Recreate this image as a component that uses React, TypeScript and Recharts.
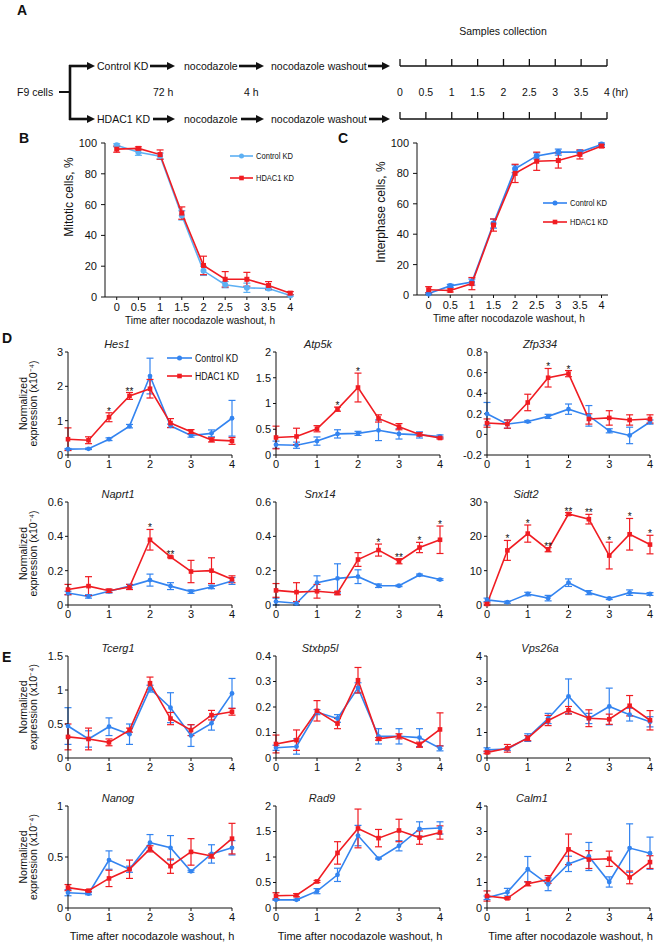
import React from "react";
import { LineChart, Line, XAxis, YAxis, ErrorBar } from "recharts";

const FONT = '"Liberation Sans", Arial, Helvetica, sans-serif';
const BLUE = "#3384f0";
const LIGHT_BLUE = "#5db0f3";
const RED = "#f01c22";
const INK = "#111";

// time points (h after washout)
const TIMES = [0, 0.5, 1, 1.5, 2, 2.5, 3, 3.5, 4];
const GENE_X_TICKS = [0, 1, 2, 3, 4];
const PCT_TICKS = [0, 20, 40, 60, 80, 100];

// B: mitotic cells, %
const mitoticCtrl = [98.5, 94, 91.5, 53, 17, 8, 6, 5.5, 1];
const mitoticCtrlSd = [1, 2, 2, 3, 3, 2, 3, 1, 0.5];
const mitoticHdac = [96, 96.5, 92.5, 54.5, 20.5, 11.5, 11.5, 7.5, 2.5];
const mitoticHdacSd = [2, 1, 3, 4, 6, 5, 4.5, 2.5, 1];

// C: interphase cells, %
const interCtrl = [1, 6, 8.5, 47, 83, 91.5, 94, 94, 99];
const interCtrlSd = [0.5, 1, 2, 3, 2.5, 2, 2, 1, 1];
const interHdac = [3.5, 3, 7.5, 46, 80, 88, 88.5, 92.5, 98];
const interHdacSd = [2, 1, 4, 4, 6, 6, 5, 3, 1];

// D
const hes1Ctrl = [0.17, 0.18, 0.46, 0.84, 2.3, 0.85, 0.57, 0.63, 1.07];
const hes1CtrlSd = [0.02, 0.02, 0.04, 0.05, 0.52, 0.05, 0.05, 0.1, 0.52];
const hes1Hdac = [0.46, 0.43, 1.1, 1.72, 1.93, 0.93, 0.68, 0.44, 0.41];
const hes1HdacSd = [0.33, 0.1, 0.13, 0.1, 0.27, 0.13, 0.06, 0.06, 0.1];
const hes1Sig = ["", "", "*", "**", "", "", "", "", ""];
const hes1Ticks = [0, 1, 2, 3];

const atp5kCtrl = [0.2, 0.19, 0.27, 0.41, 0.42, 0.48, 0.41, 0.39, 0.36];
const atp5kCtrlSd = [0.07, 0.06, 0.08, 0.08, 0.04, 0.2, 0.1, 0.06, 0.03];
const atp5kHdac = [0.34, 0.36, 0.51, 0.89, 1.31, 0.71, 0.55, 0.4, 0.33];
const atp5kHdacSd = [0.22, 0.16, 0.06, 0.04, 0.28, 0.07, 0.06, 0.03, 0.02];
const atp5kSig = ["", "", "", "*", "*", "", "", "", ""];
const atp5kTicks = [0, 0.5, 1, 1.5, 2];

const zfp334Ctrl = [0.2, 0.1, 0.125, 0.175, 0.245, 0.18, 0.035, -0.01, 0.12];
const zfp334CtrlSd = [0.11, 0.04, 0.01, 0.02, 0.05, 0.1, 0.02, 0.08, 0.02];
const zfp334Hdac = [0.11, 0.1, 0.31, 0.55, 0.59, 0.15, 0.16, 0.14, 0.15];
const zfp334HdacSd = [0.04, 0.04, 0.08, 0.09, 0.03, 0.05, 0.07, 0.05, 0.04];
const zfp334Sig = ["", "", "", "*", "*", "", "", "", ""];
const zfp334Ticks = [-0.2, 0, 0.2, 0.4, 0.6, 0.8];

const naprt1Ctrl = [0.07, 0.05, 0.08, 0.11, 0.145, 0.11, 0.078, 0.105, 0.14];
const naprt1CtrlSd = [0.01, 0.01, 0.01, 0.01, 0.035, 0.02, 0.01, 0.01, 0.02];
const naprt1Hdac = [0.09, 0.11, 0.083, 0.105, 0.38, 0.28, 0.195, 0.2, 0.15];
const naprt1HdacSd = [0.03, 0.055, 0.01, 0.015, 0.06, 0.005, 0.065, 0.075, 0.02];
const naprt1Sig = ["", "", "", "", "*", "**", "", "", ""];
const naprt1Ticks = [0, 0.2, 0.4, 0.6];

const snx14Ctrl = [0.02, 0.01, 0.13, 0.155, 0.165, 0.112, 0.112, 0.175, 0.148];
const snx14CtrlSd = [0.02, 0.01, 0.04, 0.085, 0.04, 0.01, 0.005, 0.005, 0.005];
const snx14Hdac = [0.085, 0.075, 0.08, 0.07, 0.265, 0.32, 0.255, 0.335, 0.38];
const snx14HdacSd = [0.04, 0.055, 0.04, 0.01, 0.04, 0.035, 0.015, 0.03, 0.08];
const snx14Sig = ["", "", "", "", "", "*", "**", "*", "*"];
const snx14Ticks = [0, 0.2, 0.4, 0.6];

const sidt2Ctrl = [1.5, 0.8, 3.2, 2, 6.5, 3.6, 1.9, 3.6, 3.2];
const sidt2CtrlSd = [0.5, 0.3, 0.5, 0.8, 1.1, 0.6, 0.3, 0.8, 0.4];
const sidt2Hdac = [0.3, 15.9, 20.8, 16.1, 26.5, 25, 14.4, 20.6, 17.6];
const sidt2HdacSd = [0.3, 2.9, 2.5, 0.6, 0.4, 1.4, 3.9, 4.6, 2.7];
const sidt2Sig = ["", "*", "*", "**", "**", "**", "*", "*", "*"];
const sidt2Ticks = [0, 10, 20, 30];

// E
const tcerg1Ctrl = [0.47, 0.28, 0.46, 0.35, 1.02, 0.74, 0.33, 0.51, 0.95];
const tcerg1CtrlSd = [0.27, 0.12, 0.13, 0.15, 0.05, 0.22, 0.16, 0.1, 0.22];
const tcerg1Hdac = [0.31, 0.28, 0.23, 0.41, 1.1, 0.58, 0.41, 0.63, 0.68];
const tcerg1HdacSd = [0.19, 0.16, 0.05, 0.03, 0.09, 0.09, 0.08, 0.07, 0.05];
const tcerg1Ticks = [0, 0.5, 1, 1.5];

const stxbp5lCtrl = [0.04, 0.045, 0.18, 0.155, 0.275, 0.085, 0.085, 0.08, 0.038];
const stxbp5lCtrlSd = [0.01, 0.03, 0.01, 0.015, 0.02, 0.03, 0.03, 0.035, 0.01];
const stxbp5lHdac = [0.055, 0.07, 0.185, 0.135, 0.305, 0.075, 0.085, 0.052, 0.112];
const stxbp5lHdacSd = [0.035, 0.04, 0.04, 0.02, 0.05, 0.005, 0.01, 0.01, 0.065];
const stxbp5lTicks = [0, 0.1, 0.2, 0.3, 0.4];

const vps26aCtrl = [0.32, 0.35, 0.8, 1.55, 2.42, 1.55, 2.02, 1.7, 1.42];
const vps26aCtrlSd = [0.08, 0.05, 0.15, 0.2, 0.68, 0.2, 0.72, 0.25, 0.2];
const vps26aHdac = [0.22, 0.38, 0.78, 1.47, 1.87, 1.56, 1.52, 2.05, 1.48];
const vps26aHdacSd = [0.05, 0.15, 0.1, 0.2, 0.15, 0.33, 0.2, 0.4, 0.38];
const vps26aTicks = [0, 1, 2, 3, 4];

const nanogCtrl = [0.15, 0.14, 0.47, 0.38, 0.64, 0.59, 0.36, 0.53, 0.59];
const nanogCtrlSd = [0.03, 0.01, 0.09, 0.03, 0.08, 0.12, 0.01, 0.09, 0.07];
const nanogHdac = [0.2, 0.17, 0.29, 0.38, 0.58, 0.41, 0.55, 0.51, 0.68];
const nanogHdacSd = [0.03, 0.01, 0.08, 0.09, 0.03, 0.07, 0.13, 0.02, 0.15];
const nanogTicks = [0, 0.5, 1];

const rad9Ctrl = [0.16, 0.16, 0.33, 0.65, 1.42, 0.97, 1.22, 1.55, 1.57];
const rad9CtrlSd = [0.01, 0.01, 0.05, 0.13, 0.2, 0.01, 0.1, 0.14, 0.12];
const rad9Hdac = [0.24, 0.25, 0.52, 1.08, 1.56, 1.37, 1.52, 1.38, 1.48];
const rad9HdacSd = [0.06, 0.03, 0.02, 0.22, 0.38, 0.17, 0.22, 0.13, 0.13];
const rad9Ticks = [0, 0.5, 1, 1.5, 2];

const calm1Ctrl = [0.4, 0.62, 1.52, 0.93, 1.73, 2.02, 1.02, 2.35, 2.15];
const calm1CtrlSd = [0.07, 0.15, 0.5, 0.25, 0.3, 0.55, 0.2, 0.95, 0.63];
const calm1Hdac = [0.47, 0.38, 0.95, 1.12, 2.3, 1.9, 1.93, 1.2, 1.8];
const calm1HdacSd = [0.2, 0.03, 0.08, 0.15, 0.6, 0.35, 0.3, 0.25, 0.25];
const calm1Ticks = [0, 1, 2, 3, 4];

function buildRows(
  ctrl: number[],
  ctrlSd: number[],
  hdac: number[],
  hdacSd: number[],
  sig?: string[],
) {
  return TIMES.map((t, i) => ({
    t,
    ctrl: ctrl[i],
    ctrlErr: ctrlSd[i],
    hdac: hdac[i],
    hdacErr: hdacSd[i],
    sig: sig ? sig[i] : "",
    star: sig && sig[i] ? hdac[i] + hdacSd[i] : null,
  }));
}

// plot boxes (x of t=0 / t=4, y of top tick / bottom tick)
const COLS = [
  { x0: 68, x1: 232 },
  { x0: 276, x1: 440 },
  { x0: 487, x1: 650 },
];
const ROWS = [
  { yT: 352, yB: 455 },
  { yT: 502, yB: 605 },
  { yT: 656, yB: 758 },
  { yT: 806, yB: 908 },
];

const GENE_PANELS = [
  { name: "Hes1", col: 0, row: 0, titleX: 117, ticks: hes1Ticks, rows: buildRows(hes1Ctrl, hes1CtrlSd, hes1Hdac, hes1HdacSd, hes1Sig) },
  { name: "Atp5k", col: 1, row: 0, titleX: 318, ticks: atp5kTicks, rows: buildRows(atp5kCtrl, atp5kCtrlSd, atp5kHdac, atp5kHdacSd, atp5kSig) },
  { name: "Zfp334", col: 2, row: 0, titleX: 540, ticks: zfp334Ticks, rows: buildRows(zfp334Ctrl, zfp334CtrlSd, zfp334Hdac, zfp334HdacSd, zfp334Sig) },
  { name: "Naprt1", col: 0, row: 1, titleX: 118, ticks: naprt1Ticks, rows: buildRows(naprt1Ctrl, naprt1CtrlSd, naprt1Hdac, naprt1HdacSd, naprt1Sig) },
  { name: "Snx14", col: 1, row: 1, titleX: 320, ticks: snx14Ticks, rows: buildRows(snx14Ctrl, snx14CtrlSd, snx14Hdac, snx14HdacSd, snx14Sig) },
  { name: "Sidt2", col: 2, row: 1, titleX: 526, ticks: sidt2Ticks, rows: buildRows(sidt2Ctrl, sidt2CtrlSd, sidt2Hdac, sidt2HdacSd, sidt2Sig) },
  { name: "Tcerg1", col: 0, row: 2, titleX: 118, ticks: tcerg1Ticks, rows: buildRows(tcerg1Ctrl, tcerg1CtrlSd, tcerg1Hdac, tcerg1HdacSd) },
  { name: "Stxbp5l", col: 1, row: 2, titleX: 320, ticks: stxbp5lTicks, rows: buildRows(stxbp5lCtrl, stxbp5lCtrlSd, stxbp5lHdac, stxbp5lHdacSd) },
  { name: "Vps26a", col: 2, row: 2, titleX: 540, ticks: vps26aTicks, rows: buildRows(vps26aCtrl, vps26aCtrlSd, vps26aHdac, vps26aHdacSd) },
  { name: "Nanog", col: 0, row: 3, titleX: 118, ticks: nanogTicks, rows: buildRows(nanogCtrl, nanogCtrlSd, nanogHdac, nanogHdacSd) },
  { name: "Rad9", col: 1, row: 3, titleX: 322, ticks: rad9Ticks, rows: buildRows(rad9Ctrl, rad9CtrlSd, rad9Hdac, rad9HdacSd) },
  { name: "Calm1", col: 2, row: 3, titleX: 532, ticks: calm1Ticks, rows: buildRows(calm1Ctrl, calm1CtrlSd, calm1Hdac, calm1HdacSd) },
];

const AXIS = { stroke: INK, strokeWidth: 1 };

const circleDot = (color: string, r = 2.4) => (p: any) =>
  p.cx == null || p.cy == null ? (
    <g key={`c${p.index}`} />
  ) : (
    <circle key={`c${p.index}`} cx={p.cx} cy={p.cy} r={r} fill={color} stroke="none" />
  );

const squareDot = (color: string, s = 4.6) => (p: any) =>
  p.cx == null || p.cy == null ? (
    <g key={`s${p.index}`} />
  ) : (
    <rect key={`s${p.index}`} x={p.cx - s / 2} y={p.cy - s / 2} width={s} height={s} fill={color} />
  );

const starDot = (p: any) =>
  p.cx == null || p.cy == null || !p.payload?.sig ? (
    <g key={`t${p.index}`} />
  ) : (
    <text key={`t${p.index}`} x={p.cx} y={p.cy + 2} textAnchor="middle" fontSize={10} fill={INK} fontFamily={FONT}>
      {p.payload.sig}
    </text>
  );

function GenePanel({ p }: { p: any }) {
  const { x0, x1 } = COLS[p.col];
  const { yT, yB } = ROWS[p.row];
  const ML = 40, MT = 14, MR = 12, XH = 22;
  const w = ML + (x1 - x0) + MR;
  const h = MT + (yB - yT) + XH;
  const tick = { fontSize: 11, fill: INK, fontFamily: FONT };
  return (
    <div style={{ position: "absolute", left: x0 - ML, top: yT - MT, width: w, height: h }}>
      <LineChart width={w} height={h} data={p.rows} margin={{ top: MT, right: MR, bottom: 0, left: 0 }}>
        <XAxis dataKey="t" type="number" domain={[0, 4]} ticks={GENE_X_TICKS} interval={0} height={XH}
          tickSize={3} tickMargin={2} axisLine={AXIS} tickLine={AXIS} tick={tick} />
        <YAxis type="number" domain={[p.ticks[0], p.ticks[p.ticks.length - 1]]} ticks={p.ticks} interval={0}
          width={ML} tickSize={3} tickMargin={2} axisLine={AXIS} tickLine={AXIS} tick={tick} />
        <Line dataKey="ctrl" stroke={BLUE} strokeWidth={1.6} dot={circleDot(BLUE)} activeDot={false} isAnimationActive={false}>
          <ErrorBar dataKey="ctrlErr" width={3.5} stroke={BLUE} strokeWidth={1.2} direction="y" isAnimationActive={false} />
        </Line>
        <Line dataKey="hdac" stroke={RED} strokeWidth={1.6} dot={squareDot(RED)} activeDot={false} isAnimationActive={false}>
          <ErrorBar dataKey="hdacErr" width={3.5} stroke={RED} strokeWidth={1.2} direction="y" isAnimationActive={false} />
        </Line>
        <Line dataKey="star" stroke="none" dot={starDot} activeDot={false} isAnimationActive={false} legendType="none" />
      </LineChart>
    </div>
  );
}

function PercentPanel({ x0, x1, yT, yB, xDomain, rows, ctrlColor }: any) {
  const ML = 36, MT = 10, MR = 10, XH = 24;
  const w = ML + (x1 - x0) + MR;
  const h = MT + (yB - yT) + XH;
  const tick = { fontSize: 11, fill: INK, fontFamily: FONT };
  return (
    <div style={{ position: "absolute", left: x0 - ML, top: yT - MT, width: w, height: h }}>
      <LineChart width={w} height={h} data={rows} margin={{ top: MT, right: MR, bottom: 0, left: 0 }}>
        <XAxis dataKey="t" type="number" domain={xDomain} ticks={TIMES} interval={0} height={XH}
          tickSize={3} tickMargin={3} axisLine={AXIS} tickLine={AXIS} tick={tick} />
        <YAxis type="number" domain={[0, 100]} ticks={PCT_TICKS} interval={0} width={ML}
          tickSize={4} tickMargin={4} axisLine={AXIS} tickLine={AXIS} tick={tick} />
        <Line dataKey="ctrl" stroke={ctrlColor} strokeWidth={1.6} dot={circleDot(ctrlColor, 3)} activeDot={false} isAnimationActive={false}>
          <ErrorBar dataKey="ctrlErr" width={3.5} stroke={ctrlColor} strokeWidth={1.2} direction="y" isAnimationActive={false} />
        </Line>
        <Line dataKey="hdac" stroke={RED} strokeWidth={1.6} dot={squareDot(RED, 5)} activeDot={false} isAnimationActive={false}>
          <ErrorBar dataKey="hdacErr" width={3.5} stroke={RED} strokeWidth={1.2} direction="y" isAnimationActive={false} />
        </Line>
      </LineChart>
    </div>
  );
}

function Arrow({ x1, x2, y }: { x1: number; x2: number; y: number }) {
  return (
    <g>
      <line x1={x1} x2={x2 - 6} y1={y} y2={y} stroke={INK} strokeWidth={2.6} />
      <polygon points={`${x2},${y} ${x2 - 8},${y - 4} ${x2 - 8},${y + 4}`} fill={INK} />
    </g>
  );
}

function Timeline({ y }: { y: number }) {
  const tx = (t: number) => 400 + t * 51.75;
  return (
    <g stroke={INK} strokeWidth={1.3}>
      <line x1={tx(0)} x2={tx(4)} y1={y} y2={y} />
      {TIMES.map((t) => (
        <line key={t} x1={tx(t)} x2={tx(t)} y1={y} y2={y - 7} />
      ))}
    </g>
  );
}

function PanelA() {
  const tx = (t: number) => 400 + t * 51.75;
  const fs = 10.5;
  return (
    <g fontFamily={FONT} fontSize={fs} fill={INK}>
      <text x={17} y={15} fontSize={14} fontWeight="bold">A</text>
      <text x={503} y={35} textAnchor="middle">Samples collection</text>
      <text x={17} y={96}>F9 cells</text>
      <line x1={59} x2={70} y1={92} y2={92} stroke={INK} strokeWidth={2} />
      <line x1={70} x2={70} y1={65} y2={120} stroke={INK} strokeWidth={2.6} />
      <Arrow x1={69} x2={95} y={66} />
      <Arrow x1={69} x2={95} y={119} />
      <text x={97} y={70}>Control KD</text>
      <text x={97} y={123}>HDAC1 KD</text>
      <Arrow x1={150} x2={175} y={66} />
      <Arrow x1={153} x2={175} y={119} />
      <text x={184} y={70}>nocodazole</text>
      <text x={184} y={123}>nocodazole</text>
      <Arrow x1={239} x2={264} y={66} />
      <Arrow x1={241} x2={264} y={119} />
      <text x={271} y={70}>nocodazole washout</text>
      <text x={271} y={123}>nocodazole washout</text>
      <Arrow x1={368} x2={390} y={66} />
      <Arrow x1={369} x2={390} y={119} />
      <text x={153} y={96}>72 h</text>
      <text x={244} y={96}>4 h</text>
      <Timeline y={66} />
      <Timeline y={119} />
      {TIMES.map((t) => (
        <text key={t} x={tx(t)} y={96} textAnchor="middle">{String(t)}</text>
      ))}
      <text x={612} y={96}>(hr)</text>
    </g>
  );
}

function LegendItem({ x, y, color, label, square, len, textLen, fs }: any) {
  const mid = x + len / 2;
  return (
    <g>
      <line x1={x} x2={x + len} y1={y} y2={y} stroke={color} strokeWidth={1.6} />
      {square ? (
        <rect x={mid - 2.3} y={y - 2.3} width={4.6} height={4.6} fill={color} />
      ) : (
        <circle cx={mid} cy={y} r={2.5} fill={color} />
      )}
      <text x={x + len + 3} y={y + fs * 0.36} fontSize={fs} textLength={textLen} lengthAdjust="spacingAndGlyphs" fill={INK}>
        {label}
      </text>
    </g>
  );
}

const mitoticRows = buildRows(mitoticCtrl, mitoticCtrlSd, mitoticHdac, mitoticHdacSd);
const interRows = buildRows(interCtrl, interCtrlSd, interHdac, interHdacSd);

export default function App() {
  const xCenters = COLS.map((c) => (c.x0 + c.x1) / 2 + 5);
  return (
    <div style={{ position: "absolute", left: 0, top: 0, width: 661, height: 942, background: "#fff", fontFamily: FONT }}>
      <PercentPanel x0={105} x1={292} yT={143} yB={297} xDomain={[-0.27, 4.04]} rows={mitoticRows} ctrlColor={LIGHT_BLUE} />
      <PercentPanel x0={417} x1={608} yT={143} yB={295} xDomain={[-0.27, 4.15]} rows={interRows} ctrlColor={BLUE} />
      {GENE_PANELS.map((p) => (
        <GenePanel key={p.name} p={p} />
      ))}
      <svg width={661} height={942} style={{ position: "absolute", left: 0, top: 0, pointerEvents: "none" }}>
        <PanelA />
        <g fontFamily={FONT} fill={INK}>
          <text x={19} y={143} fontSize={14} fontWeight="bold">B</text>
          <text x={338} y={143} fontSize={14} fontWeight="bold">C</text>
          <text x={2} y={343} fontSize={14} fontWeight="bold">D</text>
          <text x={2} y={662} fontSize={14} fontWeight="bold">E</text>

          <text transform="translate(73,197) rotate(-90)" textAnchor="middle" fontSize={12}>Mitotic cells, %</text>
          <text transform="translate(385,212) rotate(-90)" textAnchor="middle" fontSize={12}>Interphase cells, %</text>
          <text x={200} y={324} textAnchor="middle" fontSize={11} textLength={150} lengthAdjust="spacingAndGlyphs">
            Time after nocodazole washout, h
          </text>
          <text x={509} y={322} textAnchor="middle" fontSize={11} textLength={152} lengthAdjust="spacingAndGlyphs">
            Time after nocodazole washout, h
          </text>

          <LegendItem x={230} y={156} color={LIGHT_BLUE} label="Control KD" len={23} textLen={37} fs={9} />
          <LegendItem x={230} y={178} color={RED} label="HDAC1 KD" square len={23} textLen={38} fs={9} />
          <LegendItem x={543} y={203} color={BLUE} label="Control KD" len={24} textLen={37} fs={9} />
          <LegendItem x={543} y={222} color={RED} label="HDAC1 KD" square len={24} textLen={38} fs={9} />
          <LegendItem x={167} y={358} color={BLUE} label="Control KD" len={25} textLen={43} fs={10} />
          <LegendItem x={167} y={376} color={RED} label="HDAC1 KD" square len={25} textLen={44} fs={10} />

          {GENE_PANELS.map((p) => (
            <text key={p.name} x={p.titleX} y={ROWS[p.row].yT - 4} textAnchor="middle" fontSize={11}
              fontStyle="italic" fontWeight="normal" fill="#222">
              {p.name}
            </text>
          ))}

          {ROWS.map((r, i) => {
            const cy = (r.yT + r.yB) / 2;
            return (
              <g key={i} fontSize={10.5}>
                <text transform={`translate(27,${cy}) rotate(-90)`} textAnchor="middle">Normalized</text>
                <text transform={`translate(37,${cy}) rotate(-90)`} textAnchor="middle">expression (x10⁻⁴)</text>
              </g>
            );
          })}

          {xCenters.map((cx, i) => (
            <text key={i} x={cx - 3} y={940} textAnchor="middle" fontSize={11}>
              Time after nocodazole washout, h
            </text>
          ))}
        </g>
      </svg>
    </div>
  );
}
